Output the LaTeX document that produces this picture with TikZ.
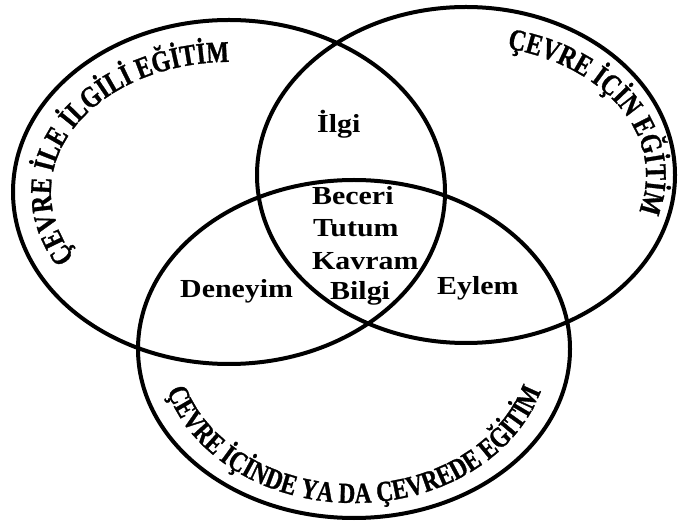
\documentclass[tikz,border=0pt]{standalone}
\usepackage{fontspec}
\setmainfont{Liberation Serif}
\newfontfamily\wordfont[FakeStretch=1.15]{Liberation Serif}
\newfontfamily\ringfont[FakeStretch=0.8,FakeBold=1]{Liberation Serif}
\usetikzlibrary{decorations.text}

\begin{document}
\begin{tikzpicture}[x=1pt,y=1pt,
    ring/.style={line width=4pt},
    word/.style={anchor=base west, inner sep=0pt,
      font={\wordfont\bfseries\fontsize{26}{28}\selectfont}},
    ringtext/.style 2 args={decorate, decoration={text along path, text align=center,
      text={|\ringfont\bfseries\fontsize{#1}{#1}\selectfont|#2}}}]

    \useasboundingbox (0,0) rectangle (679,527);

    % Ellipses
    \draw[ring]
    (229,335) ellipse[x radius=216, y radius=172]
    (466,352) ellipse[x radius=209, y radius=168]
    (354,178) ellipse[x radius=216, y radius=169];

    % Texts on the ellipses
    \path[ringtext={30}{ÇEVRE İLE İLGİLİ EĞİTİM}] (229,335) ++(235:178 and 130)
    arc[start angle=235, end angle=68, x radius=178, y radius=130];
    \path[ringtext={30}{ÇEVRE İÇİN EĞİTİM}] (466,352) ++(100:180 and 130)
    arc[start angle=100, end angle=-45, x radius=180, y radius=130];
    \path[ringtext={29}{ÇEVRE İÇİNDE YA DA ÇEVREDE EĞİTİM}] (354,178) ++(180:194 and 154)
    arc[start angle=180, end angle=360, x radius=194, y radius=154];

    % Words
    \node[word] (ilgi) at (317,394) {İlgi};
    \node[word] (beceri) at (312,322) {Beceri};
    \node[word] (tutum) at (313,290) {Tutum};
    \node[word] (kavram) at (312,257) {Kavram};
    \node[word] (bilgi) at (330,227) {Bilgi};
    \node[word] (deneyim) at (180,229) {Deneyim};
    \node[word] (eylem) at (437,232) {Eylem};

\end{tikzpicture}
\end{document}
